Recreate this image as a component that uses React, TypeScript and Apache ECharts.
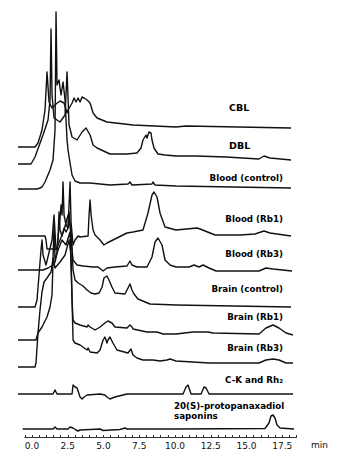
import React, { useEffect, useRef } from "react";
import * as echarts from "echarts";

type Pt = [number, number];

// retention time (min), detector response (arbitrary units) relative to each trace's own baseline
const cbl: Pt[] = [
  [-0.98, 0], [0.21, 0], [0.42, 4], [0.7, 17], [0.91, 37], [1.05, 75], [1.19, 45], [1.4, 39],
  [1.68, 43], [1.96, 46], [2.24, 44], [2.45, 34], [2.52, 37], [2.8, 44], [2.94, 49], [3.08, 45],
  [3.22, 49], [3.36, 45], [3.5, 50], [3.64, 49], [3.85, 47], [4.06, 44], [4.27, 34], [4.55, 29],
  [5.24, 25], [7.06, 22], [10.07, 20], [10.77, 21], [18.11, 19],
];
const dbl: Pt[] = [
  [-0.98, 0], [-0.07, 0], [0.21, 7], [0.77, 29], [1.12, 44], [1.26, 64], [1.33, 135], [1.4, 69],
  [1.54, 46], [1.96, 42], [2.31, 49], [2.45, 92], [2.59, 39], [2.8, 27], [3.15, 24], [3.5, 32],
  [3.78, 36], [4.06, 29], [4.27, 19], [4.55, 16], [5.45, 10], [6.64, 10], [7.34, 11], [7.62, 16],
  [7.76, 24], [7.97, 29], [8.04, 26], [8.18, 32], [8.32, 31], [8.39, 24], [8.53, 16], [8.81, 10],
  [9.3, 9], [10.07, 8], [11.47, 8], [13.57, 7], [15.87, 5], [16.22, 8], [16.64, 6], [18.11, 4],
];
const bloodControl: Pt[] = [
  [-0.98, 0], [0.35, 0], [0.56, 1], [0.7, 2], [0.91, 7], [1.26, 19], [1.47, 29], [1.61, 59],
  [1.68, 177], [1.75, 104], [1.89, 109], [2.03, 94], [2.17, 107], [2.31, 89], [2.45, 49],
  [2.52, 39], [2.66, 26], [2.8, 14], [3.01, 8], [3.36, 6], [4.06, 6], [4.76, 5], [5.45, 4],
  [6.71, 5], [6.85, 7], [6.99, 4], [8.39, 5], [8.46, 7], [8.6, 4], [10.07, 3], [18.11, 1],
];
const bloodRb1: Pt[] = [
  [-0.98, 0], [0.91, 0], [0.98, -4], [1.05, -13], [1.75, -13], [1.82, -2], [1.89, 8], [1.96, 18],
  [2.03, 31], [2.1, 21], [2.17, 54], [2.24, 21], [2.38, 11], [2.52, 8], [2.66, 54], [2.73, 14],
  [2.87, -9], [3.01, -4], [3.22, 0], [3.36, -1], [3.92, 0], [3.99, 21], [4.06, 36], [4.13, 21],
  [4.27, 6], [4.41, 1], [4.76, -4], [5.03, -9], [5.24, -7], [5.66, -4], [6.64, 3], [7.06, 4],
  [7.76, 6], [8.11, 23], [8.39, 41], [8.53, 44], [8.74, 39], [8.95, 23], [9.3, 9], [10.07, 6],
  [11.54, 8], [11.75, 7], [12.45, 3], [12.8, 1], [14.55, 1], [15.59, 2], [16.22, 5], [16.64, 3],
  [18.11, 0],
];
const bloodRb3: Pt[] = [
  [-0.98, 0], [0.77, 0], [1.12, 2], [1.47, 5], [1.61, 8], [1.75, 18], [1.82, 32], [1.89, 58],
  [1.96, 40], [2.1, 34], [2.24, 42], [2.38, 38], [2.52, 42], [2.59, 58], [2.66, 45], [2.8, 20],
  [2.87, 10], [3.15, 5], [3.57, 4], [4.27, 3], [4.62, 3], [4.97, -1], [5.24, 2], [5.8, 3],
  [6.64, 4], [6.85, 9], [6.99, 5], [7.34, 3], [8.04, 3], [8.39, 13], [8.6, 28], [8.81, 32],
  [9.09, 25], [9.3, 10], [9.65, 5], [10.07, 3], [10.98, 3], [11.33, 5], [11.68, 3], [11.96, 5],
  [12.38, 2], [12.87, -1], [15.87, -1], [16.36, 2], [16.85, 1], [18.18, -1],
];
const brainControl: Pt[] = [
  [-0.98, 0], [0.21, 0], [0.35, 7], [0.49, 32], [0.63, 57], [0.7, 67], [0.77, 52], [0.98, 42],
  [1.4, 67], [1.54, 92], [1.68, 57], [1.96, 67], [2.24, 77], [2.52, 92], [2.73, 77], [2.8, 57],
  [2.87, 37], [3.01, 27], [3.22, 24], [3.57, 21], [3.85, 17], [4.13, 14], [4.41, 13], [4.69, 14],
  [4.9, 20], [5.03, 29], [5.24, 31], [5.38, 27], [5.59, 20], [5.8, 14], [6.5, 13], [6.71, 19],
  [6.85, 23], [6.99, 17], [7.13, 13], [7.41, 8], [8.25, 3], [10.07, 2], [18.11, 0],
];
const brainRb1: Pt[] = [
  [-0.98, 0], [0.28, 0], [0.42, 7], [0.7, 13], [1.05, 23], [1.26, 33], [1.4, 45], [1.47, 80],
  [1.54, 115], [1.61, 80], [1.82, 90], [2.1, 100], [2.38, 95], [2.66, 108], [2.8, 40], [2.87, 20],
  [3.01, 17], [3.36, 15], [3.85, 13], [3.92, 15], [4.06, 13], [4.41, 10], [4.76, 13], [5.1, 17],
  [5.31, 19], [5.59, 17], [5.8, 13], [6.64, 12], [6.85, 15], [6.99, 13], [7.06, 11], [8.04, 8],
  [8.74, 8], [9.16, 6], [10.07, 6], [11.26, 8], [12.31, 8], [12.66, 7], [15.87, 6], [16.36, 12],
  [16.85, 15], [17.27, 12], [17.76, 7], [18.25, 5],
];
const brainRb3: Pt[] = [
  [-0.98, 0], [0.21, 0], [0.28, 4], [0.42, 34], [0.56, 57], [0.7, 75], [0.84, 85], [1.05, 89],
  [1.33, 95], [1.47, 109], [1.61, 99], [1.96, 105], [2.31, 112], [2.59, 127], [2.73, 112],
  [2.8, 67], [2.87, 27], [3.01, 24], [3.36, 22], [3.85, 17], [3.92, 19], [4.06, 15], [4.55, 14],
  [4.76, 17], [4.97, 27], [5.1, 30], [5.24, 24], [5.31, 27], [5.45, 30], [5.66, 24], [5.94, 17],
  [6.71, 14], [6.92, 18], [7.06, 12], [7.34, 9], [7.76, 7], [8.46, 7], [8.95, 6], [9.44, 7],
  [9.65, 8], [10.07, 6], [12.38, 4], [15.87, 4], [16.36, 7], [16.85, 8], [17.27, 7], [17.76, 4],
  [18.25, 4],
];
const ckRh2: Pt[] = [
  [-0.98, 0], [1.47, 0], [1.61, 4], [1.75, 0], [2.8, 0], [2.87, 9], [3.01, 7], [3.15, 6],
  [3.22, 3], [3.36, -3], [3.5, -5], [3.64, -3], [3.85, -1], [4.76, 0], [5.1, -1], [5.24, -3],
  [5.45, -5], [5.8, -3], [6.64, 0], [10.56, 0], [10.77, 7], [10.91, 9], [10.98, 6], [11.12, 0],
  [11.82, 0], [12.03, 7], [12.17, 6], [12.38, 0], [18.25, 0],
];
const ppd: Pt[] = [
  [-0.65, 0], [1.47, 0], [1.61, 2], [1.75, 0], [2.52, 0], [2.66, 2], [2.87, 1], [3.08, -1],
  [3.22, -2], [3.36, -1], [4.76, 0], [4.97, -1.5], [6.15, -0.5], [6.5, 1], [6.64, 0], [10.07, 0],
  [16.29, 0.5], [16.57, 6], [16.71, 13], [16.85, 14], [16.99, 11], [17.13, 4], [17.34, 1],
  [18.32, 0],
];

const traces: Pt[][] = [cbl, dbl, bloodControl, bloodRb1, bloodRb3, brainControl, brainRb1, brainRb3, ckRh2, ppd];
const traceNames = [
  "CBL", "DBL", "Blood (control)", "Blood (Rb1)", "Blood (Rb3)", "Brain (control)",
  "Brain (Rb1)", "Brain (Rb3)", "C-K and Rh₂", "20(S)-protopanaxadiol saponins",
];
// vertical stacking offsets of each trace (same units as the response)
const traceOffsets = [309, 292, 267, 220, 186, 149, 116, 89, 62, 27];

const majorTicks = [0, 2.5, 5, 7.5, 10, 12.5, 15, 17.5];
const minorTicks = [
  -0.5, 0, 0.5, 1, 1.5, 2, 2.5, 3, 3.5, 4, 4.5, 5, 5.5, 6, 6.5, 7, 7.5, 8, 8.5, 9, 9.5,
  10, 10.5, 11, 11.5, 12, 12.5, 13, 13.5, 14, 14.5, 15, 15.5, 16, 16.5, 17, 17.5, 18, 18.5,
];

const labelFont = { fontFamily: "DejaVu Sans", fontWeight: "bold" as const, fontSize: 8.7, fill: "#000" };

export default function App() {
  const ref = useRef<HTMLDivElement>(null);
  useEffect(() => {
    if (!ref.current) return;
    const chart = echarts.init(ref.current, undefined, { renderer: "svg" });
    const series = traces.map((tr, i) => ({
      type: "line" as const,
      name: traceNames[i],
      xAxisIndex: 0,
      yAxisIndex: 0,
      data: tr.map(([t, r]) => [t, r + traceOffsets[i]]),
      showSymbol: false,
      symbol: "none",
      lineStyle: { color: "#111", width: 1.4, join: "round" },
      clip: false,
      z: 2,
    }));
    const rightLabels = [
      { text: traceNames[2], y: 178 },
      { text: traceNames[3], y: 219 },
      { text: traceNames[4], y: 254 },
      { text: traceNames[5], y: 289 },
      { text: traceNames[6], y: 317 },
      { text: traceNames[7], y: 348 },
      { text: traceNames[8], y: 380 },
    ];
    chart.setOption({
      animation: false,
      backgroundColor: "#fff",
      grid: [
        { left: 17.7, width: 278.9, top: 0, height: 456 },
        { left: 24.85, width: 271.7, top: 420, height: 17 },
      ],
      xAxis: [
        { gridIndex: 0, type: "value", min: -1, max: 18.5, show: false },
        {
          gridIndex: 1,
          type: "value",
          min: -0.5,
          max: 18.5,
          axisLine: { show: true, lineStyle: { color: "#333", width: 1 } },
          axisTick: { show: true, inside: true, length: 2, customValues: minorTicks, lineStyle: { color: "#333" } },
          axisLabel: {
            customValues: majorTicks,
            formatter: (v: number) => v.toFixed(1),
            fontFamily: "DejaVu Sans",
            fontSize: 9,
            color: "#111",
            margin: 4,
          },
          splitLine: { show: false },
        },
      ],
      yAxis: [
        { gridIndex: 0, type: "value", min: 0, max: 456, show: false },
        { gridIndex: 1, type: "value", show: false },
      ],
      series,
      graphic: [
        { type: "text", x: 229, y: 107, style: { ...labelFont, fontSize: 9.5, text: traceNames[0], verticalAlign: "middle" } },
        { type: "text", x: 229, y: 145, style: { ...labelFont, fontSize: 9.5, text: traceNames[1], verticalAlign: "middle" } },
        ...rightLabels.map((l) => ({
          type: "text",
          x: 283,
          y: l.y,
          style: { ...labelFont, text: l.text, align: "right", verticalAlign: "middle" },
        })),
        { type: "text", x: 174, y: 406, style: { ...labelFont, text: "20(S)-protopanaxadiol", verticalAlign: "middle" } },
        { type: "text", x: 174, y: 416, style: { ...labelFont, text: "saponins", verticalAlign: "middle" } },
        {
          type: "text",
          x: 311,
          y: 445,
          style: { text: "min", fontFamily: "DejaVu Sans", fontSize: 9, fill: "#111", verticalAlign: "middle" },
        },
      ],
    });
    return () => chart.dispose();
  }, []);
  return (
    <div
      ref={ref}
      style={{ position: "fixed", left: 0, top: 0, width: 352, height: 456, background: "#fff" }}
    />
  );
}
